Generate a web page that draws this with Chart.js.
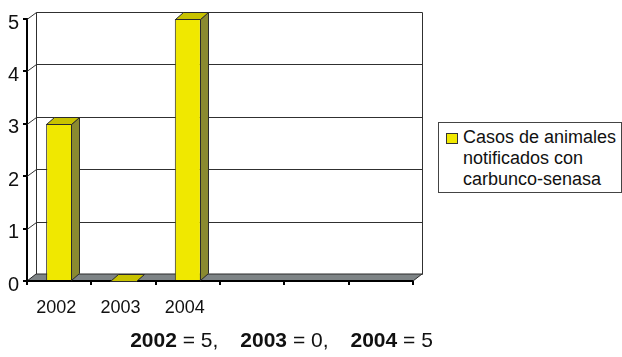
<!DOCTYPE html>
<html>
<head>
<meta charset="utf-8">
<script src="https://cdn.jsdelivr.net/npm/chart.js@4.4.1/dist/chart.umd.min.js"></script>
<style>
  html, body { margin: 0; padding: 0; background: #fff; }
  #wrap { position: relative; width: 622px; height: 357px; overflow: hidden; }
  #c { position: absolute; left: 0; top: 0; }
  .txt { font-family: "Liberation Sans", Arial, sans-serif; color: #111; }
  #legend {
    position: absolute; left: 438px; top: 122px; width: 182px; height: 69px;
    border: 1px solid #444; background: #fff;
  }
  #legend .sw {
    position: absolute; left: 7px; top: 10px; width: 10px; height: 9px;
    background: #f0e800; border: 1px solid #333;
  }
  #legend .lab {
    position: absolute; left: 24px; top: 4px; font-size: 18px; line-height: 21px; white-space: nowrap;
  }
  #caption {
    position: absolute; left: 0; width: 563px; top: 329px; text-align: center;
    font-size: 21px; line-height: 21px; white-space: pre;
  }
  #caption .gap { display: inline-block; width: 22px; }
</style>
</head>
<body>
<div id="wrap">
  <canvas id="c" width="622" height="357"></canvas>
  <div id="legend" class="txt"><div class="sw"></div><div class="lab" id="legendLabel"></div></div>
  <div id="caption" class="txt"></div>
</div>
<script>
// Categories on the x axis (the last three slots are empty)
const categories = ['2002', '2003', '2004', '', '', ''];
// Reported animal anthrax cases per year
const casos = [3, 0, 5, null, null, null];
// Value axis ticks
const yTicks = [0, 1, 2, 3, 4, 5];
// Legend text, one entry per line
const legendLines = ['Casos de animales', 'notificados con', 'carbunco-senasa'];
// Summary line under the chart
const captionYears = ['2002', '2003', '2004'];
const captionValues = [5, 0, 5];

const FONT = '"Liberation Sans", Arial, sans-serif';
const WALL_DX = 9, WALL_DY = 7;   // depth of the back wall
const BAR_DX = 8, BAR_DY = 7;     // depth of each column

const FACE = '#f0e800', SIDE = '#8a8a30', TOP = '#c8c200';
const EDGE = '#2a2a2a', FLOOR = '#7e8486';

// Back wall, left wall, gridlines, floor and the 3D faces of the columns
const depth3d = {
  id: 'depth3d',
  beforeDatasetsDraw(chart) {
    const { ctx, chartArea: a, scales: { y } } = chart;
    const bl = a.left + WALL_DX, br = a.right + WALL_DX;
    ctx.save();
    ctx.lineWidth = 1;
    ctx.strokeStyle = '#303030';
    yTicks.forEach(v => {
      const py = Math.round(y.getPixelForValue(v)) + 0.5;
      ctx.beginPath();
      ctx.moveTo(a.left, py);
      ctx.lineTo(bl + 0.5, py - WALL_DY);
      ctx.lineTo(br + 0.5, py - WALL_DY);
      ctx.stroke();
    });
    const top = Math.round(y.getPixelForValue(yTicks[yTicks.length - 1])) + 0.5 - WALL_DY;
    const bot = Math.round(y.getPixelForValue(0)) + 0.5 - WALL_DY;
    ctx.beginPath();
    ctx.moveTo(bl + 0.5, bot); ctx.lineTo(bl + 0.5, top);
    ctx.moveTo(br + 0.5, bot); ctx.lineTo(br + 0.5, top);
    ctx.stroke();

    // floor
    const fy = Math.round(y.getPixelForValue(0));
    ctx.fillStyle = FLOOR;
    ctx.beginPath();
    ctx.moveTo(a.left, fy);
    ctx.lineTo(a.right, fy);
    ctx.lineTo(br, fy - WALL_DY);
    ctx.lineTo(bl, fy - WALL_DY);
    ctx.closePath();
    ctx.fill();
    ctx.strokeStyle = EDGE;
    ctx.stroke();
    ctx.lineWidth = 2;
    ctx.strokeStyle = '#000';
    ctx.beginPath();
    ctx.moveTo(a.left, fy); ctx.lineTo(a.right, fy);
    ctx.stroke();
    ctx.restore();
  },
  afterDatasetsDraw(chart) {
    const { ctx } = chart;
    const meta = chart.getDatasetMeta(0);
    ctx.save();
    ctx.lineWidth = 1;
    ctx.strokeStyle = EDGE;
    meta.data.forEach((bar, i) => {
      if (casos[i] === null || casos[i] === undefined) return;
      const p = bar.getProps(['x', 'y', 'base', 'width'], true);
      const l = Math.round(p.x - p.width / 2) + 0.5;
      const r = Math.round(p.x + p.width / 2) - 0.5;
      const t = Math.round(p.y) + 0.5;
      const b = Math.round(p.base) + 0.5;
      if (b - t > 1) {
        ctx.fillStyle = SIDE;
        ctx.beginPath();
        ctx.moveTo(r, t); ctx.lineTo(r + BAR_DX, t - BAR_DY);
        ctx.lineTo(r + BAR_DX, b - BAR_DY); ctx.lineTo(r, b);
        ctx.closePath(); ctx.fill(); ctx.stroke();
      }
      ctx.fillStyle = TOP;
      ctx.beginPath();
      ctx.moveTo(l, t); ctx.lineTo(l + BAR_DX, t - BAR_DY);
      ctx.lineTo(r + BAR_DX, t - BAR_DY); ctx.lineTo(r, t);
      ctx.closePath(); ctx.fill(); ctx.stroke();
    });
    ctx.restore();
  }
};

new Chart(document.getElementById('c'), {
  type: 'bar',
  data: {
    labels: categories,
    datasets: [{
      label: legendLines.join(' '),
      data: casos,
      backgroundColor: FACE,
      borderColor: EDGE,
      borderWidth: 1,
      borderSkipped: 'bottom',
      barPercentage: 0.405,
      categoryPercentage: 1
    }]
  },
  options: {
    responsive: false,
    animation: false,
    devicePixelRatio: 1,
    layout: { padding: { left: 0, top: 19, right: 209, bottom: 0 } },
    plugins: { legend: { display: false }, tooltip: { enabled: false } },
    scales: {
      x: {
        offset: true,
        grid: { offset: true, drawOnChartArea: false, drawTicks: true, tickLength: 4, color: '#000', lineWidth: 2 },
        border: { display: true, color: '#000', width: 2 },
        ticks: {
          font: { family: FONT, size: 18 }, color: '#111', padding: 12,
          labelOffset: -3, maxRotation: 0, autoSkip: false
        },
        afterFit(s) { s.height = 76; }
      },
      y: {
        min: 0, max: 5,
        afterBuildTicks(s) { s.ticks = yTicks.map(v => ({ value: v })); },
        grid: { drawOnChartArea: false, drawTicks: true, tickLength: 4, color: '#000', lineWidth: 2 },
        border: { display: true, color: '#000', width: 2 },
        ticks: { font: { family: FONT, size: 20 }, color: '#111', padding: 4, labelOffset: 4 },
        afterFit(s) { s.width = 27; }
      }
    }
  },
  plugins: [depth3d]
});

// legend text
document.getElementById('legendLabel').innerHTML = legendLines.join('<br>');

// summary line
document.getElementById('caption').innerHTML = captionYears
  .map((yr, i) => '<b>' + yr + '</b> = ' + captionValues[i])
  .join(',<span class="gap"></span>');
</script>
</body>
</html>
